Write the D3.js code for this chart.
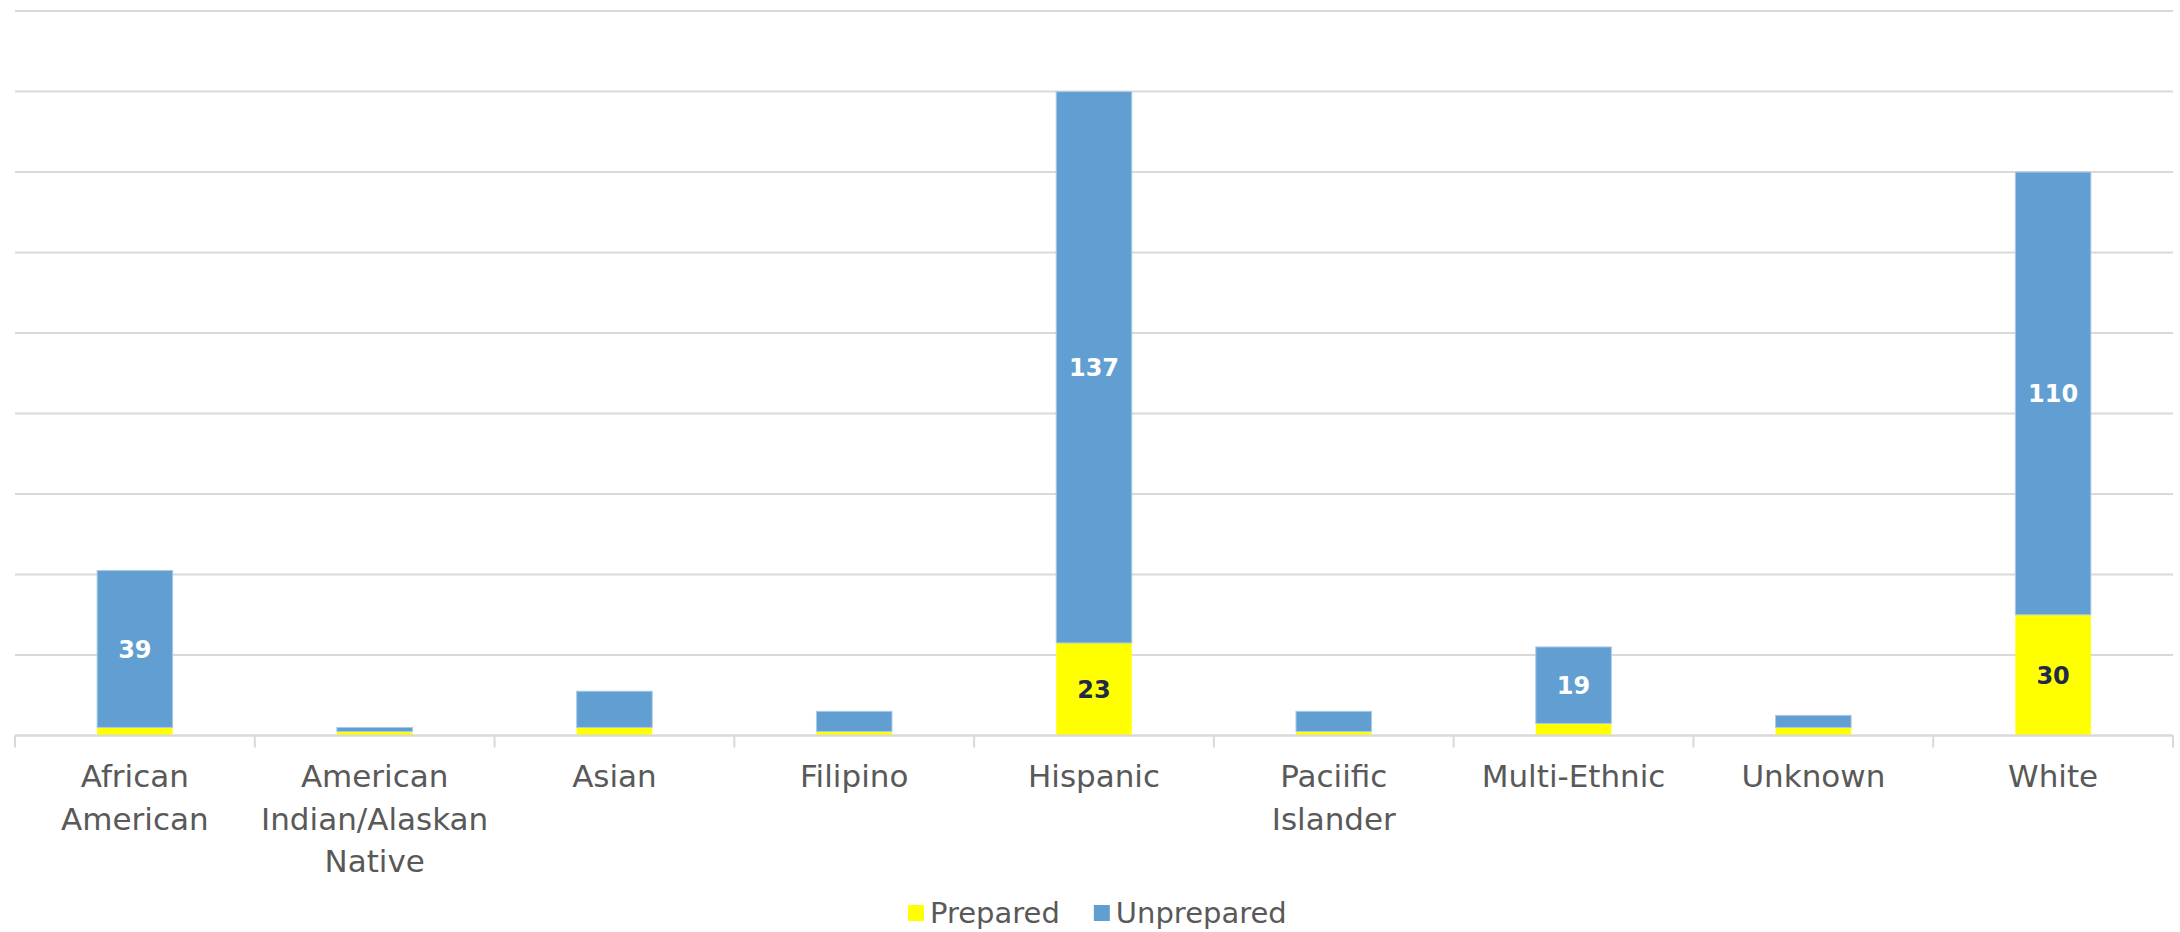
<!DOCTYPE html>
<html><head><meta charset="utf-8">
<script src="https://cdnjs.cloudflare.com/ajax/libs/d3/7.8.5/d3.min.js"></script>
<style>body{margin:0;background:#fff}svg{display:block}</style>
</head><body>
<svg id="c" width="2180" height="932"></svg>
<script>
const categories = ["African American","American Indian/Alaskan Native","Asian","Filipino","Hispanic","Paciific Islander","Multi-Ethnic","Unknown","White"];
const categoryLines = [["African","American"],["American","Indian/Alaskan","Native"],["Asian"],["Filipino"],["Hispanic"],["Paciific","Islander"],["Multi-Ethnic"],["Unknown"],["White"]];
const prepared   = [2, 1, 2, 1, 23, 1, 3, 2, 30];
const unprepared = [39, 1, 9, 5, 137, 5, 19, 3, 110];
const seriesNames = ["Prepared","Unprepared"];
const seriesColors = ["#FFFF00","#619ED2"];
const labelColors = ["#1F2A4A","#FFFFFF"];
const yTicks = [0,20,40,60,80,100,120,140,160,180];

(function(){
const svg = d3.select("#c");
const pLeft = 15, pRight = 2173, pTop = 11.1, pBottom = 735.5;
const x = d3.scaleBand().domain(categories).range([pLeft, pRight]).paddingInner(0.685).paddingOuter(0.3425);
const xb = d3.scaleBand().domain(categories).range([pLeft, pRight]);
const y = d3.scaleLinear().domain([0,180]).range([pBottom, pTop]);
const font = "'DejaVu Sans', sans-serif";

svg.append("g").selectAll("line").data(yTicks).join("line")
  .attr("x1", pLeft).attr("x2", pRight)
  .attr("y1", d => y(d)).attr("y2", d => y(d))
  .attr("stroke", "#D9D9D9").attr("stroke-width", 2);

const rows = categories.map((c,i) => ({cat:c, Prepared:prepared[i], Unprepared:unprepared[i]}));
const stack = d3.stack().keys(seriesNames)(rows);

const g = svg.append("g");
stack.forEach((s, si) => {
  g.append("g").selectAll("rect").data(s).join("rect")
    .attr("x", d => x(d.data.cat))
    .attr("width", x.bandwidth())
    .attr("y", d => y(d[1]))
    .attr("height", d => y(d[0]) - y(d[1]))
    .attr("fill", seriesColors[si])
    .attr("stroke", si === 1 ? "#A9C9E8" : "none")
    .attr("stroke-width", si === 1 ? 1 : 0);
});
stack.forEach((s, si) => {
  g.append("g").selectAll("text").data(s.filter(d => d[1]-d[0] >= 15)).join("text")
    .attr("x", d => x(d.data.cat) + x.bandwidth()/2)
    .attr("y", d => (y(d[0]) + y(d[1]))/2)
    .attr("dy", "0.36em")
    .attr("text-anchor", "middle")
    .attr("font-family", font).attr("font-weight", "bold").attr("font-size", 24)
    .attr("fill", labelColors[si])
    .text(d => d[1]-d[0]);
});

svg.append("line").attr("x1", pLeft).attr("x2", pRight).attr("y1", pBottom).attr("y2", pBottom)
  .attr("stroke", "#D9D9D9").attr("stroke-width", 2);
const bounds = categories.map(c => xb(c)).concat([pRight]);
svg.append("g").selectAll("line").data(bounds).join("line")
  .attr("x1", d => d).attr("x2", d => d).attr("y1", pBottom).attr("y2", pBottom + 12)
  .attr("stroke", "#D9D9D9").attr("stroke-width", 2);

const cl = svg.append("g");
categories.forEach((c, i) => {
  const t = cl.append("text")
    .attr("text-anchor", "middle")
    .attr("font-family", font).attr("font-size", 31).attr("fill", "#595959");
  categoryLines[i].forEach((ln, li) => {
    t.append("tspan").attr("x", xb(c) + xb.bandwidth()/2).attr("y", 787 + li*42.5).text(ln);
  });
});

const lg = svg.append("g");
let lx = 908;
seriesNames.forEach((n, i) => {
  lg.append("rect").attr("x", lx).attr("y", 905).attr("width", 16).attr("height", 16).attr("fill", seriesColors[i]);
  const t = lg.append("text").attr("x", lx + 22).attr("y", 913).attr("dy", "0.36em")
    .attr("font-family", font).attr("font-size", 29).attr("fill", "#595959").text(n);
  lx += 22 + t.node().getComputedTextLength() + 34;
});
})();
</script>
</body></html>
